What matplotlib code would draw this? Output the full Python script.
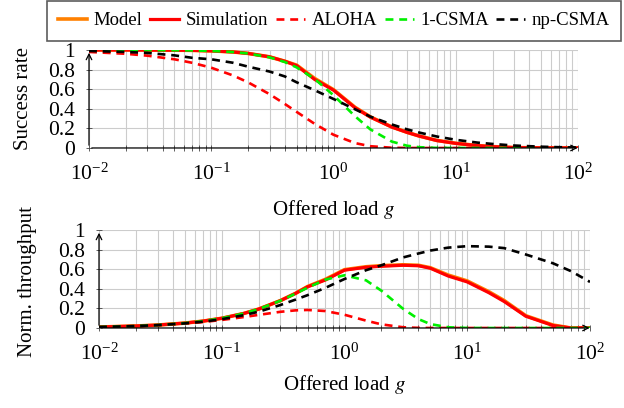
import matplotlib
matplotlib.use("Agg")
import matplotlib.pyplot as plt
from matplotlib.ticker import LogLocator, NullFormatter

plt.rcParams['font.family'] = ['Liberation Serif', 'DejaVu Serif']
plt.rcParams['mathtext.fontset'] = 'stix'

# offered load g
g = [0.01, 0.02, 0.03, 0.05, 0.07, 0.1, 0.15, 0.2, 0.3, 0.4, 0.5, 0.7, 1, 1.5,
     2, 3, 4, 5, 7, 10, 15, 20, 30, 50, 70, 100]

# success rate (top panel)
succ_model = [1.0, 1.0, 0.999, 0.998, 0.996, 0.991, 0.98, 0.965, 0.93, 0.885, 0.845,
              0.71, 0.595, 0.415, 0.318, 0.215, 0.16, 0.123, 0.077, 0.048, 0.025,
              0.014, 0.0042, 0.0006, 0.0, 0.0]
succ_sim = [1.0, 1.0, 0.999, 0.998, 0.996, 0.991, 0.98, 0.965, 0.93, 0.885, 0.84,
            0.70, 0.59, 0.41, 0.315, 0.213, 0.159, 0.122, 0.076, 0.047, 0.024,
            0.0135, 0.004, 0.0005, 0.0, 0.0]
succ_aloha = [0.980, 0.961, 0.942, 0.905, 0.869, 0.819, 0.741, 0.670, 0.549, 0.449,
              0.368, 0.247, 0.135, 0.050, 0.018, 0.0025, 0.0003, 0.0, 0.0, 0.0, 0.0,
              0.0, 0.0, 0.0, 0.0, 0.0]
succ_csma1 = [1.0, 0.9996, 0.9991, 0.9976, 0.9953, 0.9905, 0.9793, 0.9644, 0.9253,
              0.8768, 0.8222, 0.7055, 0.5379, 0.3237, 0.1901, 0.0653, 0.0228, 0.0081,
              0.001, 0.0001, 0.0, 0.0, 0.0, 0.0, 0.0, 0.0]
succ_npcsma = [0.99, 0.98, 0.97, 0.945, 0.92, 0.905, 0.87, 0.83, 0.78, 0.73, 0.67,
               0.59, 0.50, 0.395, 0.32, 0.24, 0.19, 0.158, 0.117, 0.0835, 0.055,
               0.041, 0.025, 0.013, 0.008, 0.0047]

# normalised throughput (bottom panel)
thr_model = [0.01, 0.02, 0.03, 0.0499, 0.0697, 0.099, 0.147, 0.193, 0.279, 0.354,
             0.423, 0.497, 0.595, 0.625, 0.636, 0.645, 0.64, 0.615, 0.54, 0.48, 0.37,
             0.28, 0.125, 0.03, 0.0, 0.0]
thr_sim = [0.01, 0.02, 0.03, 0.0499, 0.0697, 0.099, 0.147, 0.193, 0.279, 0.354, 0.42,
           0.49, 0.59, 0.62, 0.63, 0.64, 0.635, 0.61, 0.53, 0.47, 0.36, 0.27, 0.12,
           0.025, 0.0, 0.0]
thr_aloha = [0.0098, 0.0192, 0.0283, 0.0452, 0.0608, 0.0819, 0.111, 0.134, 0.165,
             0.180, 0.184, 0.173, 0.135, 0.075, 0.037, 0.0074, 0.0013, 0.0002, 0.0,
             0.0, 0.0, 0.0, 0.0, 0.0, 0.0, 0.0]
thr_csma1 = [0.01, 0.02, 0.03, 0.0499, 0.0697, 0.0991, 0.147, 0.193, 0.278, 0.351,
             0.411, 0.494, 0.538, 0.486, 0.380, 0.196, 0.091, 0.040, 0.0073, 0.0005,
             0.0, 0.0, 0.0, 0.0, 0.0, 0.0]
thr_npcsma = [0.0099, 0.0196, 0.029, 0.047, 0.064, 0.09, 0.13, 0.166, 0.234, 0.29,
              0.335, 0.41, 0.50, 0.59, 0.64, 0.72, 0.76, 0.79, 0.82, 0.835, 0.83,
              0.815, 0.75, 0.66, 0.58, 0.47]

ORANGE = '#ff8000'
RED = '#ff0000'
GREEN = '#00f000'
DASH = (0, (3, 2.2))


def draw(ax, series):
    model, sim, aloha, csma1, npcsma = series
    ax.plot(g, model, color=ORANGE, lw=2.6, label='Model', zorder=3)
    ax.plot(g, sim, color=RED, lw=2.3, label='Simulation', zorder=4)
    ax.plot(g, aloha, color=RED, lw=1.9, ls=DASH, label='ALOHA', zorder=5)
    ax.plot(g, csma1, color=GREEN, lw=1.9, ls=DASH, label='1-CSMA', zorder=5)
    ax.plot(g, npcsma, color='black', lw=1.9, ls=DASH, label='np-CSMA', zorder=5)

    ax.set_xscale('log')
    ax.set_xlim(0.01, 100)
    ax.set_ylim(0, 1)
    ax.set_yticks([0, 0.2, 0.4, 0.6, 0.8, 1])
    ax.set_yticklabels(['0', '0.2', '0.4', '0.6', '0.8', '1'])
    ax.xaxis.set_major_locator(LogLocator(base=10, numticks=10))
    ax.xaxis.set_minor_locator(LogLocator(base=10, subs=range(2, 10), numticks=20))
    ax.xaxis.set_minor_formatter(NullFormatter())
    ax.grid(True, which='both', color='#cccccc', lw=0.8, zorder=0)
    ax.set_axisbelow(True)
    for s in ax.spines.values():
        s.set_visible(False)
    ax.tick_params(which='both', direction='inout', length=4, width=0.6, labelsize=15.5,
                   color='#444444')
    ax.tick_params(axis='y', pad=8)
    ax.tick_params(axis='x', pad=9)
    ax.annotate('', xy=(1.005, 0), xytext=(0, 0), xycoords='axes fraction',
                arrowprops=dict(arrowstyle='->', lw=0.9, color='black'), zorder=6)
    ax.annotate('', xy=(0, 1.0), xytext=(0, 0), xycoords='axes fraction',
                arrowprops=dict(arrowstyle='->', lw=0.9, color='black'), zorder=6)


fig = plt.figure(figsize=(6.24, 4.08), dpi=100)
ax1 = fig.add_axes([89 / 624, 0.6373, 489 / 624, 0.2402])
ax2 = fig.add_axes([99 / 624, 0.1961, 491 / 624, 0.2402])

draw(ax1, [succ_model, succ_sim, succ_aloha, succ_csma1, succ_npcsma])
draw(ax2, [thr_model, thr_sim, thr_aloha, thr_csma1, thr_npcsma])

ax1.set_xlabel('Offered load $g$', fontsize=15, labelpad=10)
ax2.set_xlabel('Offered load $g$', fontsize=15, labelpad=6)
ax1.set_ylabel('Success rate', fontsize=15)
ax1.yaxis.set_label_coords(-0.115, 0.5)
ax2.set_ylabel('Norm. throughput', fontsize=15)
ax2.yaxis.set_label_coords(-0.127, 0.47)

handles, labels = ax1.get_legend_handles_labels()
leg = fig.legend(handles, labels, loc='upper left', ncol=5, fontsize=13.5,
                 bbox_to_anchor=(47 / 624, 1 - 1 / 408), borderaxespad=0,
                 frameon=True, fancybox=False, edgecolor='#333333',
                 handlelength=1.55, handletextpad=0.35, columnspacing=0.4,
                 borderpad=0.6)
leg.get_frame().set_linewidth(1.2)

fig.savefig('out.png', dpi=100)
